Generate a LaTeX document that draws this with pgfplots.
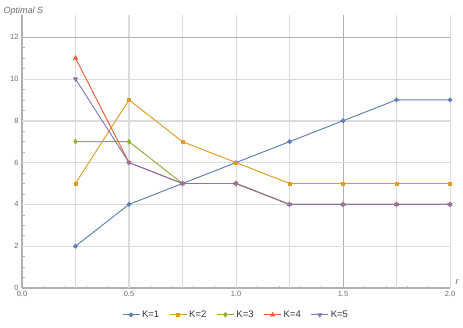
\documentclass[border=0pt]{standalone}
\usepackage{fontspec}
\setmainfont{Liberation Sans}
\usepackage{pgfplots}
\pgfplotsset{compat=1.18}
\definecolor{mblue}{HTML}{5E81B5}
\definecolor{morange}{HTML}{E19C24}
\definecolor{mgreen}{HTML}{8FB032}
\definecolor{mred}{HTML}{EB6235}
\definecolor{mpurple}{HTML}{8778B3}
\definecolor{gridc}{HTML}{DCDCDC}
\definecolor{axisc}{HTML}{B0B0B0}
\definecolor{labc}{HTML}{6E6E6E}

\begin{document}
\begin{tikzpicture}[x=1pt,y=1pt]
\path[use as bounding box] (-22,-39) rectangle (441,288);
\begin{axis}[
    scale only axis,
    width=428pt, height=273pt,
    xmin=0, xmax=2, ymin=0, ymax=13.06,
    axis x line=bottom, axis y line=left,
    axis line style={axisc, line width=1.1pt, -},
    xtick={0,0.5,1,1.5,2},
    xticklabels={0.0,0.5,1.0,1.5,2.0},
    ytick={0,2,4,6,8,10,12},
    minor x tick num=4, minor y tick num=3,
    tick align=inside,
    major tick length=4pt, minor tick length=2.5pt,
    tick style={axisc, line width=0.6pt},
    ticklabel style={font=\fontsize{7.5}{8}\selectfont, text=labc},
    /pgf/number format/assume math mode=true,
    clip=false,
    legend columns=5,
    legend style={at={(0.5,-0.068)}, anchor=north, draw=none, fill=none,
        font=\fontsize{9.5}{11}\selectfont, text=black!80,
        /tikz/every even column/.append style={column sep=8pt}},
    legend cell align=left,
    every axis plot/.append style={line width=0.95pt},
]
% grid lines
\foreach \xv in {0.25,0.75,1.0,1.25,1.75,2.0} {
  \edef\tmp{\noexpand\draw[gridc, line width=0.7pt] (axis cs:\xv,0) -- (axis cs:\xv,13.06);}\tmp
}
\draw[gridc, line width=1.6pt] (axis cs:0.5,0) -- (axis cs:0.5,13.06);
\draw[black!30, line width=0.8pt] (axis cs:1.5,0) -- (axis cs:1.5,13.06);
\foreach \yv in {2,6,10} {
  \edef\tmp{\noexpand\draw[gridc, line width=0.7pt] (axis cs:0,\yv) -- (axis cs:2,\yv);}\tmp
}
\draw[gridc, line width=1.6pt] (axis cs:0,4) -- (axis cs:2,4);
\draw[gridc, line width=1.6pt] (axis cs:0,8) -- (axis cs:2,8);
\draw[black!30, line width=0.8pt] (axis cs:0,12) -- (axis cs:2,12);

\addplot[color=mblue, mark=*, mark size=1.9pt] coordinates {
  (0.25,2) (0.5,4) (0.75,5) (1,6) (1.25,7) (1.5,8) (1.75,9) (2,9)};
\addlegendentry{K=1}
\addplot[color=morange, mark=square*, mark size=1.5pt] coordinates {
  (0.25,5) (0.5,9) (0.75,7) (1,6) (1.25,5) (1.5,5) (1.75,5) (2,5)};
\addlegendentry{K=2}
\addplot[color=mgreen, mark=diamond*, mark size=2.1pt] coordinates {
  (0.25,7) (0.5,7) (0.75,5) (1,5) (1.25,4) (1.5,4) (1.75,4) (2,4)};
\addlegendentry{K=3}
\addplot[color=mred, mark=triangle*, mark size=2.1pt] coordinates {
  (0.25,11) (0.5,6) (0.75,5) (1,5) (1.25,4) (1.5,4) (1.75,4) (2,4)};
\addlegendentry{K=4}
\addplot[color=mpurple, mark=triangle*, mark options={rotate=180}, mark size=2.1pt] coordinates {
  (0.25,10) (0.5,6) (0.75,5) (1,5) (1.25,4) (1.5,4) (1.75,4) (2,4)};
\addlegendentry{K=5}

\node[anchor=west, font=\itshape\fontsize{9}{10}\selectfont, text=labc]
  at (rel axis cs:-0.051,1.015) {Optimal S};
\node[anchor=south west, font=\itshape\fontsize{9}{10}\selectfont, text=labc]
  at (rel axis cs:1.005,0.0) {r};
\end{axis}
\end{tikzpicture}
\end{document}
